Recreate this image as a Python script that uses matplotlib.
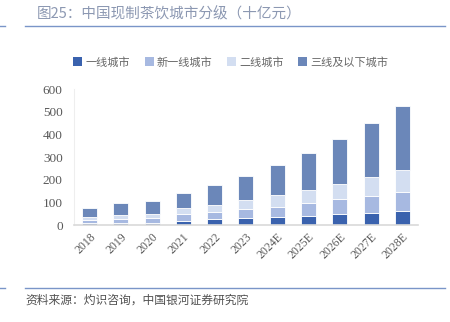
import numpy as np
import matplotlib.pyplot as plt
from matplotlib.lines import Line2D
from matplotlib.patches import Patch

plt.rcParams['font.family'] = ['Noto Sans CJK SC', 'DejaVu Sans']

# 数据（十亿元）
years = ['2018', '2019', '2020', '2021', '2022', '2023',
         '2024E', '2025E', '2026E', '2027E', '2028E']
tier1 = [8, 10, 10, 18, 25, 30, 37, 41, 49, 55, 63]
new_tier1 = [15, 18, 20, 29, 31, 39, 44, 56, 65, 75, 84]
tier2 = [14, 17, 20, 27, 32, 40, 50, 59, 69, 84, 98]
tier3_below = [40, 51, 56, 69, 87, 109, 134, 162, 196, 236, 281]

names = ['一线城市', '新一线城市', '二线城市', '三线及以下城市']
colors = ['#3a62ae', '#a7b9e1', '#d3def1', '#6b87b9']

fig = plt.figure(figsize=(4.5, 3.22), dpi=100)
ax = fig.add_axes([0.164, 0.301, 0.765, 0.422])

x = np.arange(len(years))
bottom = np.zeros(len(years))
for vals, c in zip([tier1, new_tier1, tier2, tier3_below], colors):
    ax.bar(x, vals, width=0.48, bottom=bottom, color=c,
           edgecolor='white', linewidth=0.6)
    bottom += np.array(vals)

ax.set_xlim(-0.5, len(years) - 0.5)
ax.set_ylim(0, 600)
ax.set_yticks(range(0, 601, 100))
ax.set_xticks(x)
ax.set_xticklabels(years, rotation=45, ha='right', rotation_mode='anchor')
ax.tick_params(axis='both', length=0, colors='#595959')
ax.tick_params(axis='x', pad=4)
ax.tick_params(axis='y', pad=8)
for lab in ax.get_xticklabels():
    lab.set_fontfamily('Liberation Serif')
    lab.set_fontsize(8.5)
for lab in ax.get_yticklabels():
    lab.set_fontfamily('Liberation Serif')
    lab.set_fontsize(9.5)
for s in ['top', 'right']:
    ax.spines[s].set_visible(False)
ax.spines['left'].set_color('#eeeeee')
ax.spines['bottom'].set_color('#d9d9d9')
ax.spines['bottom'].set_linewidth(1.2)

handles = [Patch(facecolor=c, edgecolor='none') for c in colors]
fig.legend(handles, names, loc='center', bbox_to_anchor=(0.513, 0.807),
           ncol=4, frameon=False, fontsize=8, handlelength=0.8,
           handleheight=0.8, handletextpad=0.3, columnspacing=1.3,
           labelcolor='#666666')

# 标题和来源
fig.text(37 / 450, 1 - 14 / 322, '图25：中国现制茶饮城市分级（十亿元）',
         fontsize=10.5, color='#8c98b2', va='center', ha='left')
line_c = '#7a95c8'
fig.add_artist(Line2D([25 / 450, 445 / 450], [1 - 26 / 322] * 2,
                      color=line_c, linewidth=1, transform=fig.transFigure))
fig.add_artist(Line2D([0, 5 / 450], [1 - 26 / 322] * 2,
                      color=line_c, linewidth=1, transform=fig.transFigure))
fig.add_artist(Line2D([25 / 450, 445 / 450], [1 - 288 / 322] * 2,
                      color=line_c, linewidth=1, transform=fig.transFigure))
fig.add_artist(Line2D([0, 5 / 450], [1 - 288 / 322] * 2,
                      color=line_c, linewidth=1, transform=fig.transFigure))
fig.text(25 / 450, 1 - 300 / 322, '资料来源：灼识咨询，中国银河证券研究院',
         fontsize=8.5, color='#505050', va='center', ha='left', style='italic')

fig.savefig('out.png', dpi=100)
